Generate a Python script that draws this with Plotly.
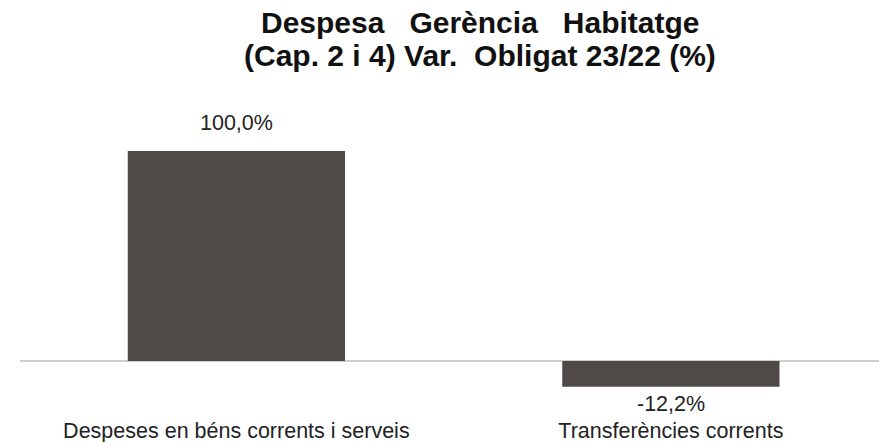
import plotly.graph_objects as go

categories = ["Despeses en béns corrents i serveis", "Transferències corrents"]
values = [100.0, -12.2]
value_labels = ["100,0%", "-12,2%"]
title_lines = ["Despesa   Gerència   Habitatge", "(Cap. 2 i 4) Var.  Obligat 23/22 (%)"]

BAR_COLOR = "#4f4a48"
FONT = "Arial, Liberation Sans, sans-serif"
W, H = 879, 442

fig = go.Figure(
    go.Bar(
        x=[0, 1],
        y=values,
        width=0.5,
        marker=dict(color=BAR_COLOR, line=dict(width=0)),
        hoverinfo="skip",
    )
)

# value labels above positive bars, below negative ones
for i, (v, lab) in enumerate(zip(values, value_labels)):
    fig.add_annotation(
        x=i, y=v, xref="x", yref="y", text=lab, showarrow=False,
        yanchor="bottom" if v >= 0 else "top",
        yshift=14 if v >= 0 else -3,
        font=dict(family=FONT, size=21.5, color="#222222"),
    )

# two-line bold heading, placed in pixel terms
for line, y_px in zip(title_lines, [22, 55]):
    fig.add_annotation(
        text=f"<b>{line}</b>", showarrow=False,
        xref="paper", yref="paper",
        x=(480 - 20) / (W - 20), xanchor="center",
        y=1 + (100 - y_px) / (H - 127), yanchor="middle",
        font=dict(family=FONT, size=30, color="#111111"),
    )

fig.update_layout(
    width=W, height=H,
    margin=dict(l=20, r=0, t=100, b=27),
    paper_bgcolor="white", plot_bgcolor="white",
    showlegend=False,
    xaxis=dict(
        range=[-0.498, 1.479],
        tickmode="array", tickvals=[0, 1], ticktext=categories,
        showgrid=False, zeroline=False, showline=False, ticks="",
        tickfont=dict(family=FONT, size=21.5, color="#222222"),
    ),
    yaxis=dict(
        range=[-25.71, 124.29],
        showgrid=False, showticklabels=False, ticks="",
        zeroline=True, zerolinecolor="#cfcfcf", zerolinewidth=2,
        showline=False,
    ),
)

fig.write_html("out.html")
